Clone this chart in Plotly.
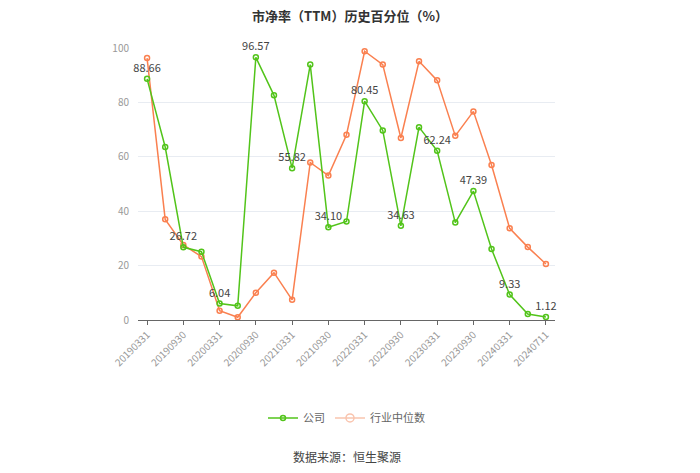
import plotly.graph_objects as go

dates = ["20190331","20190630","20190930","20191231","20200331","20200630","20200930","20201231",
         "20210331","20210630","20210930","20211231","20220331","20220630","20220930","20221231",
         "20230331","20230630","20230930","20231231","20240331","20240630","20240711"]
company = [88.66,63.6,26.72,25.1,6.04,5.2,96.57,82.6,55.82,93.9,34.10,36.2,80.45,69.7,34.63,70.9,
           62.24,35.8,47.39,26.1,9.33,2.2,1.12]
industry = [96.3,37.0,27.6,23.3,3.4,1.0,10.0,17.4,7.4,57.9,53.1,68.1,98.8,93.9,66.9,95.1,
            88.1,67.7,76.7,57.0,33.7,26.8,20.6]
tick_labels = dates[0::2][:11] + [dates[-1]]

green = "#52c41a"
orange = "#fa8050"

labels = [f"{v:.2f}" if i % 2 == 0 else "" for i, v in enumerate(company)]

fig = go.Figure()
fig.add_trace(go.Scatter(x=list(range(len(dates))), y=industry, mode="lines+markers",
                         name="行业中位数", showlegend=False, cliponaxis=False,
                         line=dict(color=orange, width=1.5),
                         marker=dict(symbol="circle-open", size=5, color=orange, line=dict(width=1.5))))
fig.add_trace(go.Scatter(x=list(range(len(dates))), y=company, mode="lines+markers+text",
                         name="公司", text=labels, textposition="top center", cliponaxis=False,
                         textfont=dict(size=11, color="#444"),
                         line=dict(color=green, width=1.5),
                         marker=dict(symbol="circle-open", size=5, color=green, line=dict(width=1.5))))
fig.add_trace(go.Scatter(x=[None], y=[None], mode="lines+markers", name="行业中位数",
                         line=dict(color="#f9c4ae", width=1.5),
                         marker=dict(symbol="circle-open", size=8, color="#f9c4ae", line=dict(width=1.5))))

tickvals = [i for i in range(0, 22, 2)] + [22]
fig.update_layout(
    width=700, height=473,
    margin=dict(l=138, r=145, t=48, b=153),
    paper_bgcolor="white", plot_bgcolor="white",
    font=dict(family="Noto Sans CJK SC, sans-serif", color="#666"),
    title=dict(text="<b>市净率（TTM）历史百分位（%）</b>", x=0.5, xanchor="center", y=0.975, yanchor="top",
               font=dict(size=13, color="#333")),
    xaxis=dict(range=[-0.5, 22.5], tickmode="array", tickvals=tickvals, ticktext=tick_labels,
               tickangle=-45, tickfont=dict(size=10, color="#999"), showgrid=False,
               showline=True, linecolor="#666", linewidth=1, ticks="outside", ticklen=4,
               tickcolor="#666", zeroline=False),
    yaxis=dict(range=[0, 100], tickvals=[0,20,40,60,80,100], tickfont=dict(size=10, color="#999"),
               showgrid=True, gridcolor="#e8ecf2", zeroline=False, showline=False, ticks="",
               ticklabelstandoff=8),
    legend=dict(orientation="h", x=0.5, xanchor="center", y=-0.36, yanchor="middle",
                font=dict(size=11, color="#666"), traceorder="normal"),
    annotations=[dict(text="数据来源：恒生聚源", x=0.5, xref="paper", y=-0.5, yref="paper",
                      xanchor="center", yanchor="middle", showarrow=False,
                      font=dict(size=12, color="#444"))]
)
fig.write_html("out.html")
